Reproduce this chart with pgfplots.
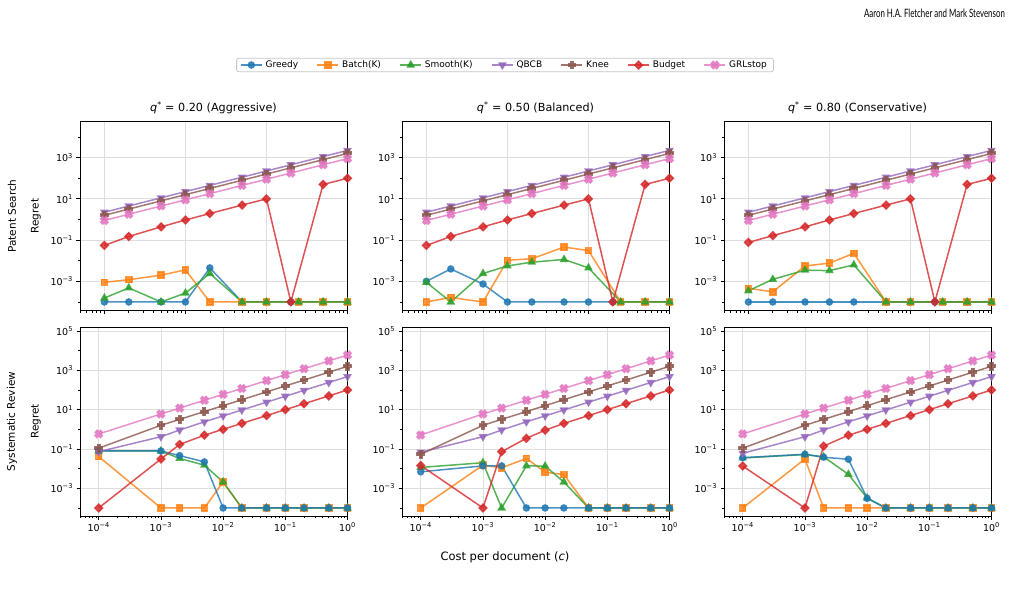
\documentclass[border=0pt]{standalone}
\usepackage{fontspec}
\setmainfont{DejaVu Sans}
\newfontfamily\headfont{Lato}
\usepackage{pgfplots}
\pgfplotsset{compat=1.18}

\definecolor{cB}{HTML}{1F77B4}
\definecolor{cO}{HTML}{FF7F0E}
\definecolor{cG}{HTML}{2CA02C}
\definecolor{cP}{HTML}{9467BD}
\definecolor{cN}{HTML}{8C564B}
\definecolor{cR}{HTML}{D62728}
\definecolor{cK}{HTML}{E377C2}

\pgfdeclareplotmark{Pfill}{%
  \pgfpathmoveto{\pgfqpoint{0.36\pgfplotmarksize}{\pgfplotmarksize}}%
  \pgfpathlineto{\pgfqpoint{0.36\pgfplotmarksize}{0.36\pgfplotmarksize}}%
  \pgfpathlineto{\pgfqpoint{\pgfplotmarksize}{0.36\pgfplotmarksize}}%
  \pgfpathlineto{\pgfqpoint{\pgfplotmarksize}{-0.36\pgfplotmarksize}}%
  \pgfpathlineto{\pgfqpoint{0.36\pgfplotmarksize}{-0.36\pgfplotmarksize}}%
  \pgfpathlineto{\pgfqpoint{0.36\pgfplotmarksize}{-\pgfplotmarksize}}%
  \pgfpathlineto{\pgfqpoint{-0.36\pgfplotmarksize}{-\pgfplotmarksize}}%
  \pgfpathlineto{\pgfqpoint{-0.36\pgfplotmarksize}{-0.36\pgfplotmarksize}}%
  \pgfpathlineto{\pgfqpoint{-\pgfplotmarksize}{-0.36\pgfplotmarksize}}%
  \pgfpathlineto{\pgfqpoint{-\pgfplotmarksize}{0.36\pgfplotmarksize}}%
  \pgfpathlineto{\pgfqpoint{-0.36\pgfplotmarksize}{0.36\pgfplotmarksize}}%
  \pgfpathlineto{\pgfqpoint{-0.36\pgfplotmarksize}{\pgfplotmarksize}}%
  \pgfpathclose
  \pgfusepathqfillstroke}

\newcommand{\tl}[1]{10\textsuperscript{#1}}
\newcommand{\tickfont}{\fontsize{9.5bp}{11bp}\selectfont}

% common series, top row
\def\TQ{(1e-3,2.25)(2e-3,4.5)(5e-3,11.25)(1e-2,22.5)(2e-2,45)(5e-2,112.5)(0.1,225)(0.2,450)(0.5,1125)(1,2250)}
\def\TN{(1e-3,1.6)(2e-3,3.2)(5e-3,8)(1e-2,16)(2e-2,32)(5e-2,80)(0.1,160)(0.2,320)(0.5,800)(1,1600)}
\def\TK{(1e-3,0.9)(2e-3,1.8)(5e-3,4.5)(1e-2,9)(2e-2,18)(5e-2,45)(0.1,90)(0.2,180)(0.5,450)(1,900)}
% common tails, bottom row
\def\BQ{(1e-3,0.42)(2e-3,0.92)(5e-3,2.4)(1e-2,4.8)(2e-2,9.6)(5e-2,24)(0.1,48)(0.2,96)(0.5,240)(1,480)}
\def\BN{(1e-3,1.6)(2e-3,3.2)(5e-3,8)(1e-2,16)(2e-2,32)(5e-2,80)(0.1,160)(0.2,320)(0.5,800)(1,1600)}
\def\BK{(1e-3,6)(2e-3,12)(5e-3,30)(1e-2,60)(2e-2,120)(5e-2,300)(0.1,600)(0.2,1200)(0.5,3000)(1,6000)}

\begin{document}
\begin{tikzpicture}
\path[fill=white, use as bounding box] (0bp,0bp) rectangle (1014bp,-600bp);

\node[anchor=east, inner sep=0pt, xscale=0.685, transform shape] at (1005bp,-13bp) {\headfont\fontsize{11.5bp}{13bp}\selectfont Aaron H.A. Fletcher and Mark Stevenson};

\node at (213.5bp,-107.5bp) {\fontsize{11.2bp}{13bp}\selectfont\textit{q}\textsuperscript{*} = 0.20 (Aggressive)};
\node at (535.5bp,-107.5bp) {\fontsize{11.2bp}{13bp}\selectfont\textit{q}\textsuperscript{*} = 0.50 (Balanced)};
\node at (857.5bp,-107.5bp) {\fontsize{11.2bp}{13bp}\selectfont\textit{q}\textsuperscript{*} = 0.80 (Conservative)};

\node[rotate=90] at (12bp,-216bp) {\fontsize{10.5bp}{12bp}\selectfont Patent Search};
\node[rotate=90] at (36bp,-216bp) {\fontsize{10.5bp}{12bp}\selectfont Regret};
\node[rotate=90] at (12bp,-421.5bp) {\fontsize{10.5bp}{12bp}\selectfont Systematic Review};
\node[rotate=90] at (36bp,-421.5bp) {\fontsize{10.5bp}{12bp}\selectfont Regret};
\node at (505bp,-557.5bp) {\fontsize{11.5bp}{13bp}\selectfont Cost per document (\textit{c})};

% ---------- Top left ----------
\begin{axis}[at={(80bp,-121.5bp)}, anchor=north west,
    xmode=log, ymode=log, width=267.5bp, height=189bp, scale only axis,
    axis line style={black, line width=0.8bp}, tick pos=left,
    tick align=outside, major tick length=3.5bp, minor tick length=2bp,
    major tick style={black, line width=0.8bp}, minor tick style={black, line width=0.6bp},
    xmajorgrids, ymajorgrids, major grid style={black!13, line width=0.8bp},
    tick label style={font=\tickfont},
    xmin=5e-4, xmax=1, ymin=3.855e-5, ymax=56600,
    xtick={1e-3,1e-2,1e-1,1}, xticklabels={},
    minor xtick={5e-4,6e-4,7e-4,8e-4,9e-4,2e-3,3e-3,4e-3,5e-3,6e-3,7e-3,8e-3,9e-3,2e-2,3e-2,4e-2,5e-2,6e-2,7e-2,8e-2,9e-2,0.2,0.3,0.4,0.5,0.6,0.7,0.8,0.9},
    ytick={1e-3,1e-1,10,1000}, yticklabels={\tl{−3},\tl{−1},\tl{1},\tl{3}},
    minor ytick={1e-4,1e-2,1,100,1e4},
  legend columns=7,
  legend style={at={(1.5888,1.2989)}, anchor=center, draw=black!22, line width=0.8bp,
    rounded corners=2bp, font=\fontsize{9bp}{10bp}\selectfont,
    inner xsep=3.5bp, inner ysep=1bp,
    nodes={inner xsep=3bp, inner ysep=1.5bp},
    /tikz/every even column/.append style={column sep=15.5bp}},
  legend cell align=left,
  legend image code/.code={\draw[mark repeat=2, mark phase=2, #1] plot coordinates {(0bp,0bp) (10.5bp,0bp) (21bp,0bp)};}]
\addplot[line width=1.5bp, opacity=0.8, color=cB, mark=*, mark size=3bp] coordinates {(1e-3,1e-4)(2e-3,1e-4)(5e-3,1e-4)(1e-2,1e-4)(2e-2,4.5e-3)(5e-2,1e-4)(0.1,1e-4)(0.2,1e-4)(0.5,1e-4)(1,1e-4)};
\addlegendentry{Greedy}
\addplot[line width=1.5bp, opacity=0.8, color=cO, mark=square*, mark size=3bp] coordinates {(1e-3,9e-4)(2e-3,1.2e-3)(5e-3,2e-3)(1e-2,3.6e-3)(2e-2,1e-4)(5e-2,1e-4)(0.1,1e-4)(0.25,1e-4)(0.5,1e-4)(1,1e-4)};
\addlegendentry{Batch(K)}
\addplot[line width=1.5bp, opacity=0.8, color=cG, mark=triangle*, mark size=3.6bp] coordinates {(1e-3,1.55e-4)(2e-3,4.8e-4)(5e-3,1e-4)(1e-2,2.7e-4)(2e-2,2.4e-3)(5e-2,1e-4)(0.1,1e-4)(0.25,1e-4)(0.5,1e-4)(1,1e-4)};
\addlegendentry{Smooth(K)}
\addplot[line width=1.5bp, opacity=0.8, color=cP, mark=triangle*, mark size=3.6bp, mark options={rotate=180}] coordinates {\TQ};
\addlegendentry{QBCB}
\addplot[line width=1.5bp, opacity=0.8, color=cN, mark=Pfill, mark size=3.6bp] coordinates {\TN};
\addlegendentry{Knee}
\addplot[line width=1.5bp, opacity=0.8, color=cR, mark=square*, mark size=2.7bp, mark options={rotate=45}] coordinates {(1e-3,0.055)(2e-3,0.15)(5e-3,0.44)(1e-2,0.95)(2e-2,1.95)(5e-2,5)(0.1,10)(0.2,1e-4)(0.5,50)(1,100)};
\addlegendentry{Budget}
\addplot[line width=1.5bp, opacity=0.8, color=cK, mark=Pfill, mark size=3.8bp, mark options={rotate=45}] coordinates {\TK};
\addlegendentry{GRLstop}
\end{axis}

% ---------- Top middle ----------
\begin{axis}[at={(402bp,-121.5bp)}, anchor=north west,
    xmode=log, ymode=log, width=267.5bp, height=189bp, scale only axis,
    axis line style={black, line width=0.8bp}, tick pos=left,
    tick align=outside, major tick length=3.5bp, minor tick length=2bp,
    major tick style={black, line width=0.8bp}, minor tick style={black, line width=0.6bp},
    xmajorgrids, ymajorgrids, major grid style={black!13, line width=0.8bp},
    tick label style={font=\tickfont},
    xmin=5e-4, xmax=1, ymin=3.855e-5, ymax=56600,
    xtick={1e-3,1e-2,1e-1,1}, xticklabels={},
    minor xtick={5e-4,6e-4,7e-4,8e-4,9e-4,2e-3,3e-3,4e-3,5e-3,6e-3,7e-3,8e-3,9e-3,2e-2,3e-2,4e-2,5e-2,6e-2,7e-2,8e-2,9e-2,0.2,0.3,0.4,0.5,0.6,0.7,0.8,0.9},
    ytick={1e-3,1e-1,10,1000}, yticklabels={\tl{−3},\tl{−1},\tl{1},\tl{3}},
    minor ytick={1e-4,1e-2,1,100,1e4}]
\addplot[line width=1.5bp, opacity=0.8, color=cB, mark=*, mark size=3bp] coordinates {(1e-3,1e-3)(2e-3,4e-3)(5e-3,7.4e-4)(1e-2,1e-4)(2e-2,1e-4)(5e-2,1e-4)(0.1,1e-4)(0.2,1e-4)(0.5,1e-4)(1,1e-4)};
\addplot[line width=1.5bp, opacity=0.8, color=cO, mark=square*, mark size=3bp] coordinates {(1e-3,1e-4)(2e-3,1.65e-4)(5e-3,1e-4)(1e-2,0.0105)(2e-2,0.0125)(5e-2,0.046)(0.1,0.031)(0.25,1e-4)(0.5,1e-4)(1,1e-4)};
\addplot[line width=1.5bp, opacity=0.8, color=cG, mark=triangle*, mark size=3.6bp] coordinates {(1e-3,9e-4)(2e-3,1e-4)(5e-3,2.4e-3)(1e-2,5.6e-3)(2e-2,8.5e-3)(5e-2,0.0115)(0.1,4.5e-3)(0.25,1e-4)(0.5,1e-4)(1,1e-4)};
\addplot[line width=1.5bp, opacity=0.8, color=cP, mark=triangle*, mark size=3.6bp, mark options={rotate=180}] coordinates {\TQ};
\addplot[line width=1.5bp, opacity=0.8, color=cN, mark=Pfill, mark size=3.6bp] coordinates {\TN};
\addplot[line width=1.5bp, opacity=0.8, color=cR, mark=square*, mark size=2.7bp, mark options={rotate=45}] coordinates {(1e-3,0.055)(2e-3,0.15)(5e-3,0.44)(1e-2,0.95)(2e-2,1.95)(5e-2,5)(0.1,10)(0.2,1e-4)(0.5,50)(1,100)};
\addplot[line width=1.5bp, opacity=0.8, color=cK, mark=Pfill, mark size=3.8bp, mark options={rotate=45}] coordinates {\TK};
\end{axis}

% ---------- Top right ----------
\begin{axis}[at={(724bp,-121.5bp)}, anchor=north west,
    xmode=log, ymode=log, width=267.5bp, height=189bp, scale only axis,
    axis line style={black, line width=0.8bp}, tick pos=left,
    tick align=outside, major tick length=3.5bp, minor tick length=2bp,
    major tick style={black, line width=0.8bp}, minor tick style={black, line width=0.6bp},
    xmajorgrids, ymajorgrids, major grid style={black!13, line width=0.8bp},
    tick label style={font=\tickfont},
    xmin=5e-4, xmax=1, ymin=3.855e-5, ymax=56600,
    xtick={1e-3,1e-2,1e-1,1}, xticklabels={},
    minor xtick={5e-4,6e-4,7e-4,8e-4,9e-4,2e-3,3e-3,4e-3,5e-3,6e-3,7e-3,8e-3,9e-3,2e-2,3e-2,4e-2,5e-2,6e-2,7e-2,8e-2,9e-2,0.2,0.3,0.4,0.5,0.6,0.7,0.8,0.9},
    ytick={1e-3,1e-1,10,1000}, yticklabels={\tl{−3},\tl{−1},\tl{1},\tl{3}},
    minor ytick={1e-4,1e-2,1,100,1e4}]
\addplot[line width=1.5bp, opacity=0.8, color=cB, mark=*, mark size=3bp] coordinates {(1e-3,1e-4)(2e-3,1e-4)(5e-3,1e-4)(1e-2,1e-4)(2e-2,1e-4)(5e-2,1e-4)(0.1,1e-4)(0.2,1e-4)(0.5,1e-4)(1,1e-4)};
\addplot[line width=1.5bp, opacity=0.8, color=cO, mark=square*, mark size=3bp] coordinates {(1e-3,4.6e-4)(2e-3,3.1e-4)(5e-3,5.6e-3)(1e-2,7.6e-3)(2e-2,0.023)(5e-2,1e-4)(0.1,1e-4)(0.25,1e-4)(0.5,1e-4)(1,1e-4)};
\addplot[line width=1.5bp, opacity=0.8, color=cG, mark=triangle*, mark size=3.6bp] coordinates {(1e-3,3.5e-4)(2e-3,1.25e-3)(5e-3,3.5e-3)(1e-2,3.3e-3)(2e-2,6.3e-3)(5e-2,1e-4)(0.1,1e-4)(0.25,1e-4)(0.5,1e-4)(1,1e-4)};
\addplot[line width=1.5bp, opacity=0.8, color=cP, mark=triangle*, mark size=3.6bp, mark options={rotate=180}] coordinates {\TQ};
\addplot[line width=1.5bp, opacity=0.8, color=cN, mark=Pfill, mark size=3.6bp] coordinates {\TN};
\addplot[line width=1.5bp, opacity=0.8, color=cR, mark=square*, mark size=2.7bp, mark options={rotate=45}] coordinates {(1e-3,0.077)(2e-3,0.165)(5e-3,0.44)(1e-2,0.95)(2e-2,1.95)(5e-2,5)(0.1,10)(0.2,1e-4)(0.5,50)(1,100)};
\addplot[line width=1.5bp, opacity=0.8, color=cK, mark=Pfill, mark size=3.8bp, mark options={rotate=45}] coordinates {\TK};
\end{axis}

% ---------- Bottom left ----------
\begin{axis}[at={(80bp,-327bp)}, anchor=north west,
    xmode=log, ymode=log, width=267.5bp, height=189bp, scale only axis,
    axis line style={black, line width=0.8bp}, tick pos=left,
    tick align=outside, major tick length=3.5bp, minor tick length=2bp,
    major tick style={black, line width=0.8bp}, minor tick style={black, line width=0.6bp},
    xmajorgrids, ymajorgrids, major grid style={black!13, line width=0.8bp},
    tick label style={font=\tickfont},
    xmin=5e-5, xmax=1, ymin=3.9e-5, ymax=159600,
    xtick={1e-4,1e-3,1e-2,1e-1,1}, xticklabels={\tl{−4},\tl{−3},\tl{−2},\tl{−1},\tl{0}},
    minor xtick={5e-5,6e-5,7e-5,8e-5,9e-5,2e-4,3e-4,4e-4,5e-4,6e-4,7e-4,8e-4,9e-4,2e-3,3e-3,4e-3,5e-3,6e-3,7e-3,8e-3,9e-3,2e-2,3e-2,4e-2,5e-2,6e-2,7e-2,8e-2,9e-2,0.2,0.3,0.4,0.5,0.6,0.7,0.8,0.9},
    ytick={1e-3,1e-1,10,1000,1e5}, yticklabels={\tl{−3},\tl{−1},\tl{1},\tl{3},\tl{5}},
    minor ytick={1e-4,1e-2,1,100,1e4}]
\addplot[line width=1.5bp, opacity=0.8, color=cO, mark=square*, mark size=3bp] coordinates {(1e-4,0.041)(1e-3,1e-4)(2e-3,1e-4)(5e-3,1e-4)(1e-2,2.1e-3)(2e-2,1e-4)(5e-2,1e-4)(0.1,1e-4)(0.2,1e-4)(0.5,1e-4)(1,1e-4)};
\addplot[line width=1.5bp, opacity=0.8, color=cG, mark=triangle*, mark size=3.6bp] coordinates {(1e-4,0.079)(1e-3,0.079)(2e-3,0.033)(5e-3,0.015)(1e-2,2.1e-3)(2e-2,1e-4)(5e-2,1e-4)(0.1,1e-4)(0.2,1e-4)(0.5,1e-4)(1,1e-4)};
\addplot[line width=1.5bp, opacity=0.8, color=cB, mark=*, mark size=3bp] coordinates {(1e-4,0.079)(1e-3,0.079)(2e-3,0.046)(5e-3,0.022)(1e-2,1e-4)(2e-2,1e-4)(5e-2,1e-4)(0.1,1e-4)(0.2,1e-4)(0.5,1e-4)(1,1e-4)};
\addplot[line width=1.5bp, opacity=0.8, color=cP, mark=triangle*, mark size=3.6bp, mark options={rotate=180}] coordinates {(1e-4,0.073)\BQ};
\addplot[line width=1.5bp, opacity=0.8, color=cN, mark=Pfill, mark size=3.6bp] coordinates {(1e-4,0.11)\BN};
\addplot[line width=1.5bp, opacity=0.8, color=cR, mark=square*, mark size=2.7bp, mark options={rotate=45}] coordinates {(1e-4,1e-4)(1e-3,0.031)(2e-3,0.17)(5e-3,0.5)(1e-2,1)(2e-2,2)(5e-2,5)(0.1,10)(0.2,20)(0.5,50)(1,100)};
\addplot[line width=1.5bp, opacity=0.8, color=cK, mark=Pfill, mark size=3.8bp, mark options={rotate=45}] coordinates {(1e-4,0.58)\BK};
\end{axis}

% ---------- Bottom middle ----------
\begin{axis}[at={(402bp,-327bp)}, anchor=north west,
    xmode=log, ymode=log, width=267.5bp, height=189bp, scale only axis,
    axis line style={black, line width=0.8bp}, tick pos=left,
    tick align=outside, major tick length=3.5bp, minor tick length=2bp,
    major tick style={black, line width=0.8bp}, minor tick style={black, line width=0.6bp},
    xmajorgrids, ymajorgrids, major grid style={black!13, line width=0.8bp},
    tick label style={font=\tickfont},
    xmin=5e-5, xmax=1, ymin=3.9e-5, ymax=159600,
    xtick={1e-4,1e-3,1e-2,1e-1,1}, xticklabels={\tl{−4},\tl{−3},\tl{−2},\tl{−1},\tl{0}},
    minor xtick={5e-5,6e-5,7e-5,8e-5,9e-5,2e-4,3e-4,4e-4,5e-4,6e-4,7e-4,8e-4,9e-4,2e-3,3e-3,4e-3,5e-3,6e-3,7e-3,8e-3,9e-3,2e-2,3e-2,4e-2,5e-2,6e-2,7e-2,8e-2,9e-2,0.2,0.3,0.4,0.5,0.6,0.7,0.8,0.9},
    ytick={1e-3,1e-1,10,1000,1e5}, yticklabels={\tl{−3},\tl{−1},\tl{1},\tl{3},\tl{5}},
    minor ytick={1e-4,1e-2,1,100,1e4}]
\addplot[line width=1.5bp, opacity=0.8, color=cO, mark=square*, mark size=3bp] coordinates {(1e-4,1e-4)(1e-3,0.015)(2e-3,0.011)(5e-3,0.033)(1e-2,6.6e-3)(2e-2,5e-3)(5e-2,1e-4)(0.1,1e-4)(0.2,1e-4)(0.5,1e-4)(1,1e-4)};
\addplot[line width=1.5bp, opacity=0.8, color=cG, mark=triangle*, mark size=3.6bp] coordinates {(1e-4,0.0115)(1e-3,0.02)(2e-3,1e-4)(5e-3,0.0138)(1e-2,0.0135)(2e-2,2.1e-3)(5e-2,1e-4)(0.1,1e-4)(0.2,1e-4)(0.5,1e-4)(1,1e-4)};
\addplot[line width=1.5bp, opacity=0.8, color=cB, mark=*, mark size=3bp] coordinates {(1e-4,6.9e-3)(1e-3,0.0138)(2e-3,0.0138)(5e-3,1e-4)(1e-2,1e-4)(2e-2,1e-4)(5e-2,1e-4)(0.1,1e-4)(0.2,1e-4)(0.5,1e-4)(1,1e-4)};
\addplot[line width=1.5bp, opacity=0.8, color=cP, mark=triangle*, mark size=3.6bp, mark options={rotate=180}] coordinates {(1e-4,0.068)\BQ};
\addplot[line width=1.5bp, opacity=0.8, color=cN, mark=Pfill, mark size=3.6bp] coordinates {(1e-4,0.054)\BN};
\addplot[line width=1.5bp, opacity=0.8, color=cR, mark=square*, mark size=2.7bp, mark options={rotate=45}] coordinates {(1e-4,0.0145)(1e-3,1e-4)(2e-3,0.073)(5e-3,0.35)(1e-2,0.9)(2e-2,2)(5e-2,5)(0.1,10)(0.2,20)(0.5,50)(1,100)};
\addplot[line width=1.5bp, opacity=0.8, color=cK, mark=Pfill, mark size=3.8bp, mark options={rotate=45}] coordinates {(1e-4,0.51)\BK};
\end{axis}

% ---------- Bottom right ----------
\begin{axis}[at={(724bp,-327bp)}, anchor=north west,
    xmode=log, ymode=log, width=267.5bp, height=189bp, scale only axis,
    axis line style={black, line width=0.8bp}, tick pos=left,
    tick align=outside, major tick length=3.5bp, minor tick length=2bp,
    major tick style={black, line width=0.8bp}, minor tick style={black, line width=0.6bp},
    xmajorgrids, ymajorgrids, major grid style={black!13, line width=0.8bp},
    tick label style={font=\tickfont},
    xmin=5e-5, xmax=1, ymin=3.9e-5, ymax=159600,
    xtick={1e-4,1e-3,1e-2,1e-1,1}, xticklabels={\tl{−4},\tl{−3},\tl{−2},\tl{−1},\tl{0}},
    minor xtick={5e-5,6e-5,7e-5,8e-5,9e-5,2e-4,3e-4,4e-4,5e-4,6e-4,7e-4,8e-4,9e-4,2e-3,3e-3,4e-3,5e-3,6e-3,7e-3,8e-3,9e-3,2e-2,3e-2,4e-2,5e-2,6e-2,7e-2,8e-2,9e-2,0.2,0.3,0.4,0.5,0.6,0.7,0.8,0.9},
    ytick={1e-3,1e-1,10,1000,1e5}, yticklabels={\tl{−3},\tl{−1},\tl{1},\tl{3},\tl{5}},
    minor ytick={1e-4,1e-2,1,100,1e4}]
\addplot[line width=1.5bp, opacity=0.8, color=cO, mark=square*, mark size=3bp] coordinates {(1e-4,1e-4)(1e-3,0.031)(2e-3,1e-4)(5e-3,1e-4)(1e-2,1e-4)(2e-2,1e-4)(5e-2,1e-4)(0.1,1e-4)(0.2,1e-4)(0.5,1e-4)(1,1e-4)};
\addplot[line width=1.5bp, opacity=0.8, color=cG, mark=triangle*, mark size=3.6bp] coordinates {(1e-4,0.035)(1e-3,0.052)(2e-3,0.04)(5e-3,5.1e-3)(1e-2,3.2e-4)(2e-2,1e-4)(5e-2,1e-4)(0.1,1e-4)(0.2,1e-4)(0.5,1e-4)(1,1e-4)};
\addplot[line width=1.5bp, opacity=0.8, color=cB, mark=*, mark size=3bp] coordinates {(1e-4,0.036)(1e-3,0.054)(2e-3,0.038)(5e-3,0.03)(1e-2,3.1e-4)(2e-2,1e-4)(5e-2,1e-4)(0.1,1e-4)(0.2,1e-4)(0.5,1e-4)(1,1e-4)};
\addplot[line width=1.5bp, opacity=0.8, color=cP, mark=triangle*, mark size=3.6bp, mark options={rotate=180}] coordinates {(1e-4,0.06)\BQ};
\addplot[line width=1.5bp, opacity=0.8, color=cN, mark=Pfill, mark size=3.6bp] coordinates {(1e-4,0.11)\BN};
\addplot[line width=1.5bp, opacity=0.8, color=cR, mark=square*, mark size=2.7bp, mark options={rotate=45}] coordinates {(1e-4,0.0135)(1e-3,1e-4)(2e-3,0.14)(5e-3,0.5)(1e-2,1)(2e-2,2)(5e-2,5)(0.1,10)(0.2,20)(0.5,50)(1,100)};
\addplot[line width=1.5bp, opacity=0.8, color=cK, mark=Pfill, mark size=3.8bp, mark options={rotate=45}] coordinates {(1e-4,0.58)\BK};
\end{axis}
\end{tikzpicture}
\end{document}
